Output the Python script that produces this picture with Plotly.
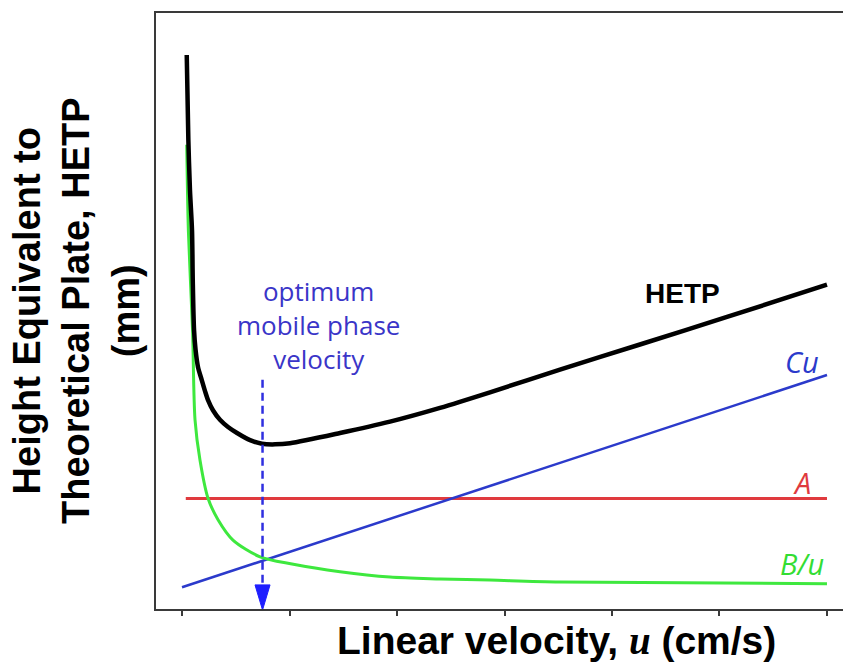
import plotly.graph_objects as go

# ---- data (x: linear velocity, tick units; y: plate height, arbitrary units) ----
hetp_u = [0.044, 0.059, 0.074, 0.093, 0.100, 0.112, 0.126, 0.149, 0.183, 0.214, 0.242,
          0.288, 0.353, 0.428, 0.512, 0.633, 0.744, 0.865, 1.005, 1.470, 1.935,
          2.400, 2.865, 3.516, 4.260, 5.070, 6.0]
hetp_h = [92.8, 78.6, 70.2, 63.5, 55.2, 46.8, 43.5, 40.6, 38.5, 36.6, 35.1,
          33.4, 31.8, 30.6, 29.6, 28.4, 27.8, 27.7, 27.9, 29.6, 31.5,
          33.8, 36.4, 40.2, 44.4, 49.0, 54.4]

bu_u = [0.044, 0.059, 0.098, 0.121, 0.167, 0.242, 0.335, 0.474, 0.726, 1.023, 1.470,
        1.935, 2.400, 2.865, 3.516, 6.0]
bu_h = [77.8, 63.5, 46.8, 31.8, 25.1, 18.7, 15.1, 11.7, 8.9, 7.7, 6.4,
        5.5, 5.2, 5.0, 4.7, 4.4]

cu_u = [0.0, 6.0]
cu_h = [3.8, 39.3]

a_u = [0.035, 6.0]
a_h = [18.65, 18.65]

u_opt = 0.749          # optimum velocity (dashed arrow)
u_opt_top = 38.5       # top of dashed arrow

x_ticks = [0, 1, 2, 3, 4, 5, 6]

# ---- styles ----
RED = "#e03a3e"
GREEN = "#3ee83e"
BLUE = "#2b3acb"
DASH_BLUE = "#2f2fe0"
TXT_BLUE = "#3a35c8"

fig = go.Figure()

fig.add_trace(go.Scatter(x=a_u, y=a_h, mode="lines", line=dict(color=RED, width=3)))
fig.add_trace(go.Scatter(x=cu_u, y=cu_h, mode="lines", line=dict(color=BLUE, width=2.5)))
fig.add_trace(go.Scatter(x=bu_u, y=bu_h, mode="lines",
                         line=dict(color=GREEN, width=3, shape="spline", smoothing=0.8)))
fig.add_trace(go.Scatter(x=hetp_u, y=hetp_h, mode="lines",
                         line=dict(color="black", width=4.5, shape="spline", smoothing=0.8)))

# dashed arrow at optimum velocity
head_h = 4.2      # arrow head length (y units)
head_hw = 0.07    # arrow head half-width (x units)
fig.add_trace(go.Scatter(x=[u_opt, u_opt], y=[u_opt_top, head_h], mode="lines",
                         line=dict(color=DASH_BLUE, width=2.5, dash="8px,5px")))
fig.add_trace(go.Scatter(x=[u_opt - head_hw, u_opt + head_hw, u_opt, u_opt - head_hw],
                         y=[head_h, head_h, 0.0, head_h], mode="lines", fill="toself",
                         fillcolor="#1f1fff", line=dict(color="#1f1fff", width=1)))

ann = []
ann.append(dict(x=1.274, y=47.7, xref="x", yref="y", showarrow=False,
                text="optimum<br>mobile phase<br>velocity",
                font=dict(family="Open Sans", size=26, color=TXT_BLUE),
                xanchor="center", yanchor="middle"))
ann.append(dict(x=4.66, y=53.0, xref="x", yref="y", showarrow=False, text="HETP",
                font=dict(family="Liberation Sans", size=28, color="black", weight="bold"),
                xanchor="center", yanchor="middle"))
ann.append(dict(x=5.77, y=41.5, xref="x", yref="y", showarrow=False, text="<i>Cu</i>",
                font=dict(family="Open Sans", size=29, color=BLUE),
                xanchor="center", yanchor="middle"))
ann.append(dict(x=5.77, y=21.4, xref="x", yref="y", showarrow=False, text="<i>A</i>",
                font=dict(family="Open Sans", size=29, color=RED),
                xanchor="center", yanchor="middle"))
ann.append(dict(x=5.77, y=7.7, xref="x", yref="y", showarrow=False, text="<i>B/u</i>",
                font=dict(family="Open Sans", size=29, color="#33dd33"),
                xanchor="center", yanchor="middle"))

# axis titles
ann.append(dict(x=(556 - 156) / 687, y=0, xref="paper", yref="paper", yshift=-31,
                showarrow=False,
                text='Linear velocity, <span style="font-family:Liberation Serif"><i>u</i></span> (cm/s)',
                font=dict(family="Liberation Sans", size=39, color="black", weight="bold"),
                xanchor="center", yanchor="middle"))
ann.append(dict(x=0, y=0.5, xref="paper", yref="paper", xshift=76 - 156,
                showarrow=False, textangle=-90,
                text="Height Equivalent to<br>Theoretical Plate, HETP<br>(mm)",
                font=dict(family="Liberation Sans", size=38, color="black", weight="bold"),
                xanchor="center", yanchor="middle"))

fig.update_layout(
    width=843, height=662,
    margin=dict(l=156, r=0, t=13, b=53),
    paper_bgcolor="white", plot_bgcolor="white",
    showlegend=False,
    annotations=ann,
    xaxis=dict(range=[-0.242, 6.149], showgrid=False, zeroline=False,
               showline=True, linecolor="#3a3a3a", linewidth=2, mirror=True,
               ticks="outside", ticklen=5, tickwidth=1.5, tickcolor="#3a3a3a",
               tickvals=x_ticks, showticklabels=False),
    yaxis=dict(range=[0.17, 99.83], showgrid=False, zeroline=False,
               showline=True, linecolor="#3a3a3a", linewidth=2,
               ticks="", showticklabels=False),
)

fig.write_html("out.html")
